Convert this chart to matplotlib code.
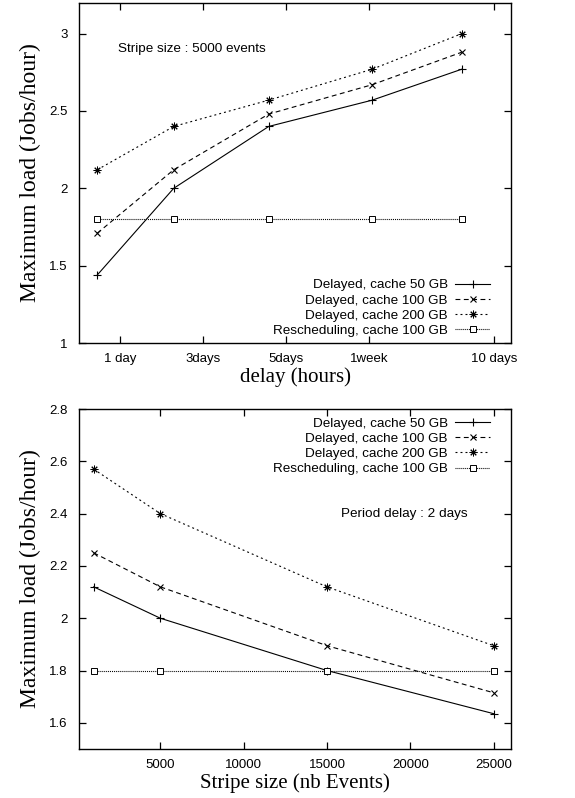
import matplotlib
matplotlib.use("Agg")
import matplotlib.pyplot as plt

plt.rcParams['lines.scale_dashes'] = False

# ---- data: top panel (delay in hours) ----
delay_hours = [10.6, 54.8, 109.8, 169.7, 221.5]
top_50 = [1.44, 2.00, 2.40, 2.57, 2.77]
top_100 = [1.71, 2.12, 2.48, 2.67, 2.88]
top_200 = [2.12, 2.40, 2.57, 2.77, 3.00]
top_resched = [1.80, 1.80, 1.80, 1.80, 1.80]
top_xticks = [24, 72, 120, 168, 240]
top_xticklabels = ["1 day", "3days", "5days", "1week", "10 days"]
top_yticks = [1, 1.5, 2, 2.5, 3]
top_yticklabels = ["1", "1.5", "2", "2.5", "3"]

# ---- data: bottom panel (stripe size) ----
stripe = [1000, 5000, 15000, 25000]
bot_50 = [2.12, 2.00, 1.80, 1.635]
bot_100 = [2.25, 2.12, 1.895, 1.715]
bot_200 = [2.57, 2.40, 2.12, 1.895]
bot_resched = [1.80, 1.80, 1.80, 1.80]
bot_xticks = [5000, 10000, 15000, 20000, 25000]
bot_yticks = [1.6, 1.8, 2.0, 2.2, 2.4, 2.6, 2.8]
bot_yticklabels = ["1.6", "1.8", "2", "2.2", "2.4", "2.6", "2.8"]

labels = ["Delayed, cache 50 GB", "Delayed, cache 100 GB",
          "Delayed, cache 200 GB", "Rescheduling, cache 100 GB"]

SANS = "Liberation Sans"
SERIF = "Liberation Serif"
LW = 0.8
TXT = 9.7

styles = [
    dict(linestyle="-", marker="+", markersize=6, markeredgewidth=0.8),
    dict(linestyle=(0, (3.5, 2.5)), marker="x", markersize=5, markeredgewidth=0.8),
    dict(linestyle=(0, (1.4, 2.2)), marker=(8, 2, 0), markersize=5.5, markeredgewidth=0.7),
    dict(linestyle=(0, (0.7, 0.7)), marker="s", markersize=4, markerfacecolor="white",
         markeredgewidth=0.7),
]

fig = plt.figure(figsize=(5.75, 7.98), dpi=100)
ax1 = fig.add_axes([79/575, 1-343/798, 432/575, 340.3/798])
ax2 = fig.add_axes([79/575, 1-749/798, 432/575, 340/798])


def style_axes(ax):
    for s in ax.spines.values():
        s.set_linewidth(1.0)
    ax.tick_params(direction="in", length=5, width=0.9, top=True, right=True,
                   labelsize=9.5)
    ax.tick_params(axis="y", pad=8)
    ax.tick_params(axis="x", pad=7)
    for t in ax.get_xticklabels() + ax.get_yticklabels():
        t.set_fontfamily(SANS)


def add_legend(ax, **kw):
    leg = ax.legend(markerfirst=False, frameon=False, prop={"family": SANS, "size": TXT},
                    handlelength=2.6, handletextpad=0.55, labelspacing=0.2,
                    borderaxespad=0, borderpad=0, **kw)
    return leg


# top panel
for ys, st, lab in zip([top_50, top_100, top_200, top_resched], styles, labels):
    ax1.plot(delay_hours, ys, color="black", linewidth=LW, label=lab, **st)
ax1.set_xlim(0, 250)
ax1.set_ylim(1, 3.2)
ax1.set_xticks(top_xticks)
ax1.set_xticklabels(top_xticklabels)
ax1.set_yticks(top_yticks)
ax1.set_yticklabels(top_yticklabels)
style_axes(ax1)
ax1.set_xlabel("delay (hours)", fontfamily=SERIF, fontsize=15, labelpad=2)
ax1.set_ylabel("Maximum load (Jobs/hour)", fontfamily=SERIF, fontsize=17, labelpad=6)
ax1.text(22.6, 2.9, "Stripe size : 5000 events", fontfamily=SANS, fontsize=TXT,
         ha="left", va="center")
add_legend(ax1, loc="lower right", bbox_to_anchor=(0.952, 0.018))

# bottom panel
for ys, st, lab in zip([bot_50, bot_100, bot_200, bot_resched], styles, labels):
    ax2.plot(stripe, ys, color="black", linewidth=LW, label=lab, **st)
ax2.set_xlim(120, 26040)
ax2.set_ylim(1.5, 2.8)
ax2.set_xticks(bot_xticks)
ax2.set_xticklabels([str(v) for v in bot_xticks])
ax2.set_yticks(bot_yticks)
ax2.set_yticklabels(bot_yticklabels)
style_axes(ax2)
ax2.set_xlabel("Stripe size (nb Events)", fontfamily=SERIF, fontsize=15, labelpad=2)
ax2.set_ylabel("Maximum load (Jobs/hour)", fontfamily=SERIF, fontsize=17, labelpad=6)
ax2.text(15840, 2.4, "Period delay : 2 days", fontfamily=SANS, fontsize=TXT,
         ha="left", va="center")
add_legend(ax2, loc="upper right", bbox_to_anchor=(0.952, 0.975))

fig.savefig("out.png", dpi=100)
